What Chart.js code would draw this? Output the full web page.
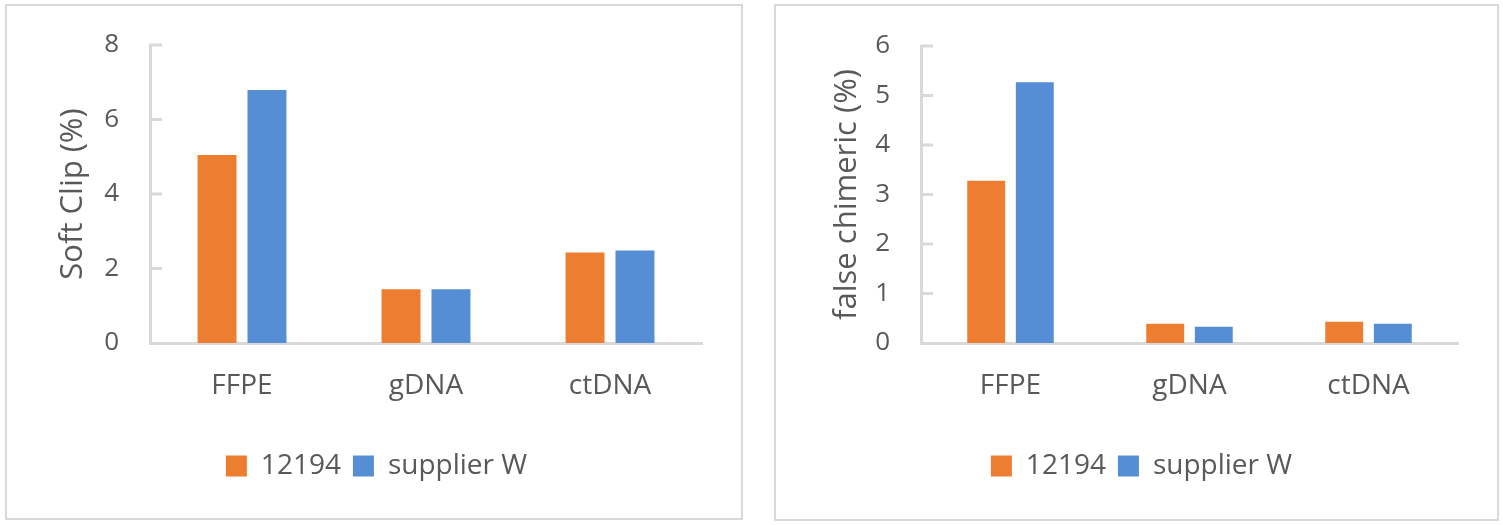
<!DOCTYPE html>
<html>
<head>
<meta charset="utf-8">
<script src="https://cdn.jsdelivr.net/npm/chart.js@4.4.1/dist/chart.umd.min.js"></script>
<style>
  body { margin: 0; background: #fff; width: 1503px; height: 525px; position: relative; overflow: hidden; }
  .panel { position: absolute; border: 2px solid #d9d9d9; background: #fff; }
  #leftPanel { left: 5px; top: 4px; width: 734px; height: 512px; }
  #rightPanel { left: 774px; top: 4px; width: 721px; height: 513px; }
  canvas { display: block; }
</style>
</head>
<body>
<div class="panel" id="leftPanel"><canvas id="softClipChart" width="734" height="512"></canvas></div>
<div class="panel" id="rightPanel"><canvas id="chimericChart" width="721" height="513"></canvas></div>
<script>
// data
const categories = ['FFPE', 'gDNA', 'ctDNA'];
const seriesNames = ['12194', 'supplier W'];

const softClip12194 = [5.05, 1.44, 2.43];
const softClipSupplierW = [6.79, 1.44, 2.48];
const softClipTicks = [0, 2, 4, 6, 8];

const chimeric12194 = [3.28, 0.39, 0.43];
const chimericSupplierW = [5.27, 0.33, 0.39];
const chimericTicks = [0, 1, 2, 3, 4, 5, 6];

const orange = '#ED7D31';
const blue = '#558ED5';
const axisGrey = '#d9d9d9';
const textGrey = '#595959';
const fontFamily = '"Open Sans", sans-serif';

// small tick marks pointing into the plot, like the office chart
const innerTicks = {
    id: 'innerTicks',
    afterDraw(chart) {
        const y = chart.scales.y;
        const ctx = chart.ctx;
        ctx.save();
        ctx.strokeStyle = axisGrey;
        ctx.lineWidth = 3;
        y.ticks.forEach((t, i) => {
            if (i === 0) return;
            const py = y.getPixelForTick(i);
            ctx.beginPath();
            ctx.moveTo(chart.chartArea.left, py);
            ctx.lineTo(chart.chartArea.left + 12, py);
            ctx.stroke();
        });
        ctx.restore();
    }
};

function makeChart(canvasId, title, a, b, tickValues, opts) {
    const ctx = document.getElementById(canvasId);
    return new Chart(ctx, {
        type: 'bar',
        data: {
            labels: categories,
            datasets: [{
                label: seriesNames[0],
                data: a,
                backgroundColor: orange,
                borderWidth: 0,
                categoryPercentage: 0.543,
                barPercentage: 0.78
            }, {
                label: seriesNames[1],
                data: b,
                backgroundColor: blue,
                borderWidth: 0,
                categoryPercentage: 0.543,
                barPercentage: 0.78
            }]
        },
        options: {
            responsive: false,
            animation: false,
            layout: { padding: { left: opts.left, right: opts.right, top: opts.top, bottom: opts.bottom } },
            plugins: {
                tooltip: { enabled: false },
                legend: {
                    position: 'bottom',
                    labels: {
                        color: textGrey,
                        font: { family: fontFamily, size: 28 },
                        boxWidth: 21,
                        boxHeight: 21,
                        padding: 12
                    }
                }
            },
            scales: {
                x: {
                    grid: { display: false },
                    border: { display: true, color: axisGrey, width: 3 },
                    ticks: {
                        color: textGrey,
                        font: { family: fontFamily, size: 28 },
                        padding: 18
                    },
                    afterFit: (scale) => { scale.height = opts.xHeight; }
                },
                y: {
                    min: tickValues[0],
                    max: tickValues[tickValues.length - 1],
                    afterBuildTicks: (scale) => { scale.ticks = tickValues.map(v => ({ value: v })); },
                    grid: { display: false },
                    border: { display: true, color: axisGrey, width: 3 },
                    ticks: {
                        color: textGrey,
                        font: { family: fontFamily, size: 26 },
                        padding: 23
                    },
                    title: {
                        display: true,
                        text: title,
                        color: textGrey,
                        font: { family: fontFamily, size: 31 }
                    },
                    afterFit: (scale) => { scale.width = opts.yWidth; }
                }
            }
        },
        plugins: [innerTicks]
    });
}

makeChart('softClipChart', 'Soft Clip (%)', softClip12194, softClipSupplierW, softClipTicks,
    { left: 44, right: 39, top: 39, bottom: 28, yWidth: 99, xHeight: 97 });
makeChart('chimericChart', 'false chimeric (%)', chimeric12194, chimericSupplierW, chimericTicks,
    { left: 49, right: 39, top: 40, bottom: 29, yWidth: 96, xHeight: 97 });
</script>
</body>
</html>
